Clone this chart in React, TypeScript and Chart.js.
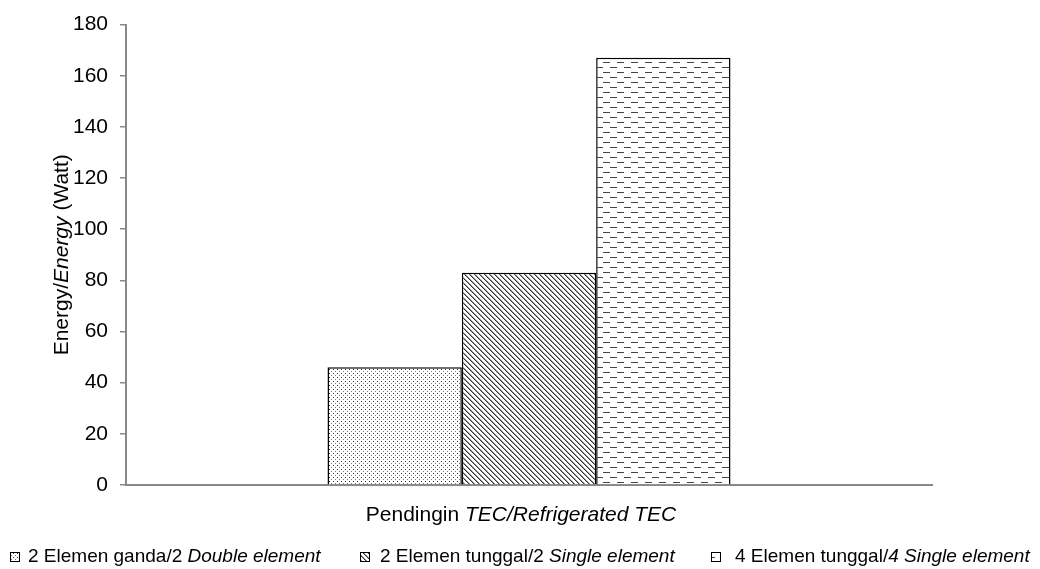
import React, { useEffect, useRef } from 'react';
import { Chart, registerables } from 'chart.js';

Chart.register(...registerables);

// ---- data ----
const categories: string[] = ['Pendingin TEC/Refrigerated TEC'];
const seriesNames: string[] = [
  '2 Elemen ganda/2 Double element',
  '2 Elemen tunggal/2 Single element',
  '4 Elemen tunggal/4 Single element',
];
const series1: number[] = [46];
const series2: number[] = [83];
const series3: number[] = [167];
const yMin = 0;
const yMax = 180;
const yStep = 20;

// mixed-style text runs: [text, italic]
const yTitleRuns: [string, boolean][] = [['Energy/', false], ['Energy', true], [' (Watt)', false]];
const xTitleRuns: [string, boolean][] = [['Pendingin ', false], ['TEC/Refrigerated TEC', true]];
const legendRuns: [string, boolean][][] = [
  [['2 Elemen ganda/2 ', false], ['Double element', true]],
  [['2 Elemen tunggal/2 ', false], ['Single element', true]],
  [['4 Elemen tunggal/', false], ['4 Single element', true]],
];

const FONT = '"Liberation Sans", Arial, sans-serif';

function makePattern(kind: number): CanvasPattern | string {
  const c = document.createElement('canvas');
  const ctx = c.getContext('2d');
  if (!ctx) return '#fff';
  if (kind === 0) {
    c.width = 4; c.height = 4;
    ctx.fillStyle = '#fff'; ctx.fillRect(0, 0, 4, 4);
    ctx.fillStyle = '#333'; ctx.fillRect(1, 1, 1, 1);
    ctx.fillStyle = '#777'; ctx.fillRect(3, 3, 1, 1);
  } else if (kind === 1) {
    c.width = 5; c.height = 5;
    ctx.fillStyle = '#fff'; ctx.fillRect(0, 0, 5, 5);
    for (let i = 0; i < 5; i++) {
      ctx.fillStyle = '#333'; ctx.fillRect(i, i, 1, 1);
      ctx.fillStyle = '#999'; ctx.fillRect((i + 1) % 5, i, 1, 1);
    }
  } else {
    c.width = 14; c.height = 10;
    ctx.fillStyle = '#fff'; ctx.fillRect(0, 0, 14, 10);
    ctx.fillStyle = '#444';
    ctx.fillRect(1, 2, 7, 1);
    ctx.fillRect(8, 7, 7, 1);
    ctx.fillRect(0, 7, 1, 1);
  }
  return ctx.createPattern(c, 'repeat') || '#fff';
}

function drawRuns(ctx: CanvasRenderingContext2D, runs: [string, boolean][], x: number, y: number, size: number, center: boolean) {
  const widths = runs.map((r) => {
    ctx.font = `${r[1] ? 'italic ' : ''}${size}px ${FONT}`;
    return ctx.measureText(r[0]).width;
  });
  const total = widths.reduce((a, b) => a + b, 0);
  let cx = center ? x - total / 2 : x;
  runs.forEach((r, i) => {
    ctx.font = `${r[1] ? 'italic ' : ''}${size}px ${FONT}`;
    ctx.fillText(r[0], cx, y);
    cx += widths[i];
  });
}

export default function App() {
  const ref = useRef<HTMLCanvasElement>(null);
  useEffect(() => {
    if (!ref.current) return;
    const patterns = [makePattern(0), makePattern(1), makePattern(2)];
    const values = [series1, series2, series3];
    const textPlugin = {
      id: 'texts',
      afterDraw(chart: any) {
        const ctx: CanvasRenderingContext2D = chart.ctx;
        const area = chart.chartArea;
        ctx.save();
        ctx.fillStyle = '#000';
        ctx.textBaseline = 'middle';
        ctx.textAlign = 'left';
        // y title
        ctx.save();
        ctx.translate(62, (area.top + area.bottom) / 2);
        ctx.rotate(-Math.PI / 2);
        drawRuns(ctx, yTitleRuns, 0, 0, 21, true);
        ctx.restore();
        // x title
        drawRuns(ctx, xTitleRuns, 521, 515, 21, true);
        // legend
        const boxX = [10, 360, 711];
        const textX = [28, 380, 735];
        legendRuns.forEach((runs, i) => {
          ctx.fillStyle = patterns[i] as any;
          ctx.fillRect(boxX[i], 552, 10, 10);
          ctx.strokeStyle = '#000';
          ctx.lineWidth = 1;
          ctx.strokeRect(boxX[i] + 0.5, 552.5, 9, 9);
          ctx.fillStyle = '#000';
          drawRuns(ctx, runs, textX[i], 557, 19, false);
        });
        ctx.restore();
      },
    };
    const chart = new Chart(ref.current, {
      type: 'bar',
      data: {
        labels: categories,
        datasets: seriesNames.map((name, i) => ({
          label: name,
          data: values[i],
          backgroundColor: patterns[i] as any,
          borderColor: '#000',
          borderWidth: 1.5,
          barPercentage: 1,
          categoryPercentage: 0.5,
        })),
      },
      options: {
        responsive: false,
        animation: false,
        devicePixelRatio: 1,
        layout: { padding: { top: 23, right: 108, left: 0, bottom: 0 } },
        plugins: { legend: { display: false }, tooltip: { enabled: false }, title: { display: false } },
        scales: {
          x: {
            grid: { display: false },
            border: { display: true, color: '#888', width: 2 },
            ticks: { display: false },
            afterFit: (s: any) => { s.height = 84; },
          },
          y: {
            min: yMin,
            max: yMax,
            ticks: { stepSize: yStep, color: '#000', padding: 12, font: { family: FONT, size: 21 } },
            grid: { drawOnChartArea: false, drawTicks: true, tickLength: 6, color: '#888', lineWidth: 1.5 },
            border: { display: true, color: '#888', width: 2 },
            afterFit: (s: any) => { s.width = 126; },
          },
        },
      },
      plugins: [textPlugin],
    });
    return () => chart.destroy();
  }, []);
  return (
    <div style={{ position: 'absolute', left: 0, top: 0, width: 1040, height: 569, background: '#fff' }}>
      <canvas ref={ref} width={1040} height={569} />
    </div>
  );
}
